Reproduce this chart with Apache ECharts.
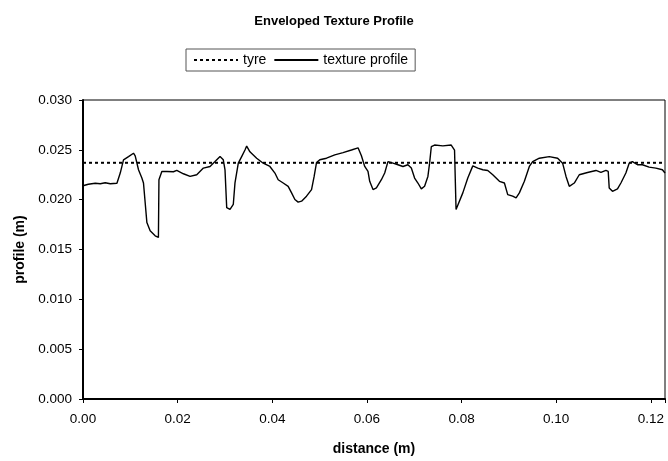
<!DOCTYPE html>
<html>
<head>
<meta charset="utf-8">
<script src="https://cdn.jsdelivr.net/npm/echarts@6/dist/echarts.min.js"></script>
<style>html,body{margin:0;padding:0;background:#fff}#c{width:668px;height:461px}</style>
</head>
<body>
<div id="c"></div>
<script>
var chartTitle = "Enveloped Texture Profile";
var seriesNames = ["tyre", "texture profile"];
var xTicks = [0, 0.02, 0.04, 0.06, 0.08, 0.10, 0.12];
var yTicks = [0, 0.005, 0.010, 0.015, 0.020, 0.025, 0.030];
var tyreX = [0, 0.123];
var tyreY = [0.0237, 0.0237];
var profileX = [0.0000,0.00112,0.00259,0.00365,0.00470,0.00576,0.00717,0.00787,0.00856,0.00962,0.01067,0.01103,0.01173,0.01244,0.01278,0.01314,0.01350,0.01419,0.01525,0.01594,0.01605,0.01666,0.01772,0.01911,0.01982,0.02122,0.02263,0.02404,0.02544,0.02685,0.02790,0.02896,0.02965,0.03001,0.03037,0.03107,0.03176,0.03212,0.03282,0.03353,0.03423,0.03459,0.03528,0.03670,0.03809,0.03950,0.04056,0.04125,0.04231,0.04336,0.04408,0.04478,0.04547,0.04619,0.04724,0.04830,0.04885,0.04935,0.05005,0.05146,0.05321,0.05496,0.05673,0.05813,0.05884,0.05954,0.06023,0.06059,0.06129,0.06201,0.06306,0.06376,0.06445,0.06551,0.06656,0.06762,0.06867,0.06939,0.07008,0.07078,0.07150,0.07219,0.07289,0.07325,0.07361,0.07430,0.07605,0.07782,0.07852,0.07873,0.07884,0.07915,0.08027,0.08132,0.08238,0.08343,0.08449,0.08554,0.08660,0.08801,0.08906,0.08976,0.09081,0.09153,0.09222,0.09328,0.09433,0.09503,0.09644,0.09855,0.10031,0.10136,0.10208,0.10277,0.10383,0.10488,0.10663,0.10841,0.10946,0.11051,0.11100,0.11121,0.11190,0.11296,0.11368,0.11473,0.11543,0.11612,0.11718,0.11823,0.11964,0.12106,0.12245,0.12300];
var profileY = [0.02140,0.02155,0.02165,0.02160,0.02170,0.02160,0.02165,0.02267,0.02400,0.02432,0.02466,0.02440,0.02300,0.02217,0.02168,0.01969,0.01770,0.01687,0.01637,0.01621,0.02200,0.02283,0.02283,0.02280,0.02293,0.02260,0.02233,0.02250,0.02317,0.02333,0.02382,0.02432,0.02400,0.02300,0.01920,0.01902,0.01952,0.02168,0.02366,0.02432,0.02498,0.02538,0.02480,0.02416,0.02366,0.02333,0.02267,0.02200,0.02167,0.02134,0.02068,0.02002,0.01975,0.01985,0.02035,0.02101,0.02233,0.02372,0.02400,0.02416,0.02449,0.02472,0.02498,0.02520,0.02440,0.02333,0.02283,0.02184,0.02101,0.02118,0.02200,0.02267,0.02382,0.02366,0.02350,0.02333,0.02350,0.02317,0.02217,0.02167,0.02108,0.02134,0.02233,0.02366,0.02531,0.02548,0.02540,0.02548,0.02498,0.02480,0.01902,0.01910,0.02068,0.02217,0.02339,0.02317,0.02300,0.02293,0.02250,0.02184,0.02167,0.02051,0.02035,0.02018,0.02068,0.02184,0.02333,0.02382,0.02416,0.02432,0.02416,0.02366,0.02233,0.02134,0.02167,0.02250,0.02273,0.02293,0.02273,0.02293,0.02283,0.02118,0.02084,0.02108,0.02167,0.02267,0.02366,0.02382,0.02350,0.02350,0.02326,0.02317,0.02300,0.02267];

function zip(a, b) { return a.map(function (v, i) { return [v, b[i]]; }); }
var FONT = "Liberation Sans";
var chart = echarts.init(document.getElementById('c'), null, {renderer: 'canvas'});
chart.setOption({
  animation: false,
  backgroundColor: '#fff',
  title: {
    text: chartTitle, left: 'center', top: 10,
    textStyle: {fontFamily: FONT, fontSize: 13, fontWeight: 'bold', color: '#000'}
  },
  legend: {
    left: 186, top: 49, padding: [4, 7, 4, 7], itemGap: 7, itemWidth: 44, itemHeight: 14,
    borderColor: '#555', borderWidth: 1,
    itemStyle: {color: 'rgba(0,0,0,0)', borderWidth: 0, opacity: 0},
    textStyle: {fontFamily: FONT, fontSize: 14, color: '#000'},
    data: seriesNames
  },
  grid: {left: 83, right: 2, top: 100, bottom: 59, show: true, borderColor: '#000', borderWidth: 1, containLabel: false},
  xAxis: {
    type: 'value', min: 0, max: 0.123, interval: 0.02,
    name: 'distance (m)', nameLocation: 'middle', nameGap: 43,
    nameTextStyle: {fontFamily: FONT, fontSize: 14, fontWeight: 'bold', color: '#000'},
    axisLine: {show: true, lineStyle: {color: '#000', width: 2}},
    axisTick: {show: true, length: 4, lineStyle: {color: '#000'}},
    splitLine: {show: false},
    axisLabel: {fontFamily: FONT, fontSize: 13.5, color: '#000', margin: 13, showMaxLabel: true,
      formatter: function (v) { return xTicks.some(function (t) { return Math.abs(t - v) < 1e-9; }) ? v.toFixed(2) : ''; }}
  },
  yAxis: {
    type: 'value', min: 0, max: 0.030, interval: 0.005,
    name: 'profile (m)', nameLocation: 'middle', nameGap: 56,
    nameTextStyle: {fontFamily: FONT, fontSize: 14, fontWeight: 'bold', color: '#000'},
    axisLine: {show: true, lineStyle: {color: '#000', width: 2}},
    axisTick: {show: true, length: 4, lineStyle: {color: '#000'}},
    splitLine: {show: false},
    axisLabel: {fontFamily: FONT, fontSize: 13.5, color: '#000', margin: 11,
      formatter: function (v) { return yTicks.some(function (t) { return Math.abs(t - v) < 1e-9; }) ? v.toFixed(3) : ''; }}
  },
  series: [
    {name: seriesNames[0], type: 'line', data: zip(tyreX, tyreY), symbol: 'none', showSymbol: false,
      lineStyle: {color: '#000', width: 2, type: [3, 3]}, itemStyle: {color: '#000'}},
    {name: seriesNames[1], type: 'line', data: zip(profileX, profileY), symbol: 'none', showSymbol: false,
      lineStyle: {color: '#000', width: 1.4}, itemStyle: {color: '#000'}}
  ]
});
</script>
</body>
</html>
